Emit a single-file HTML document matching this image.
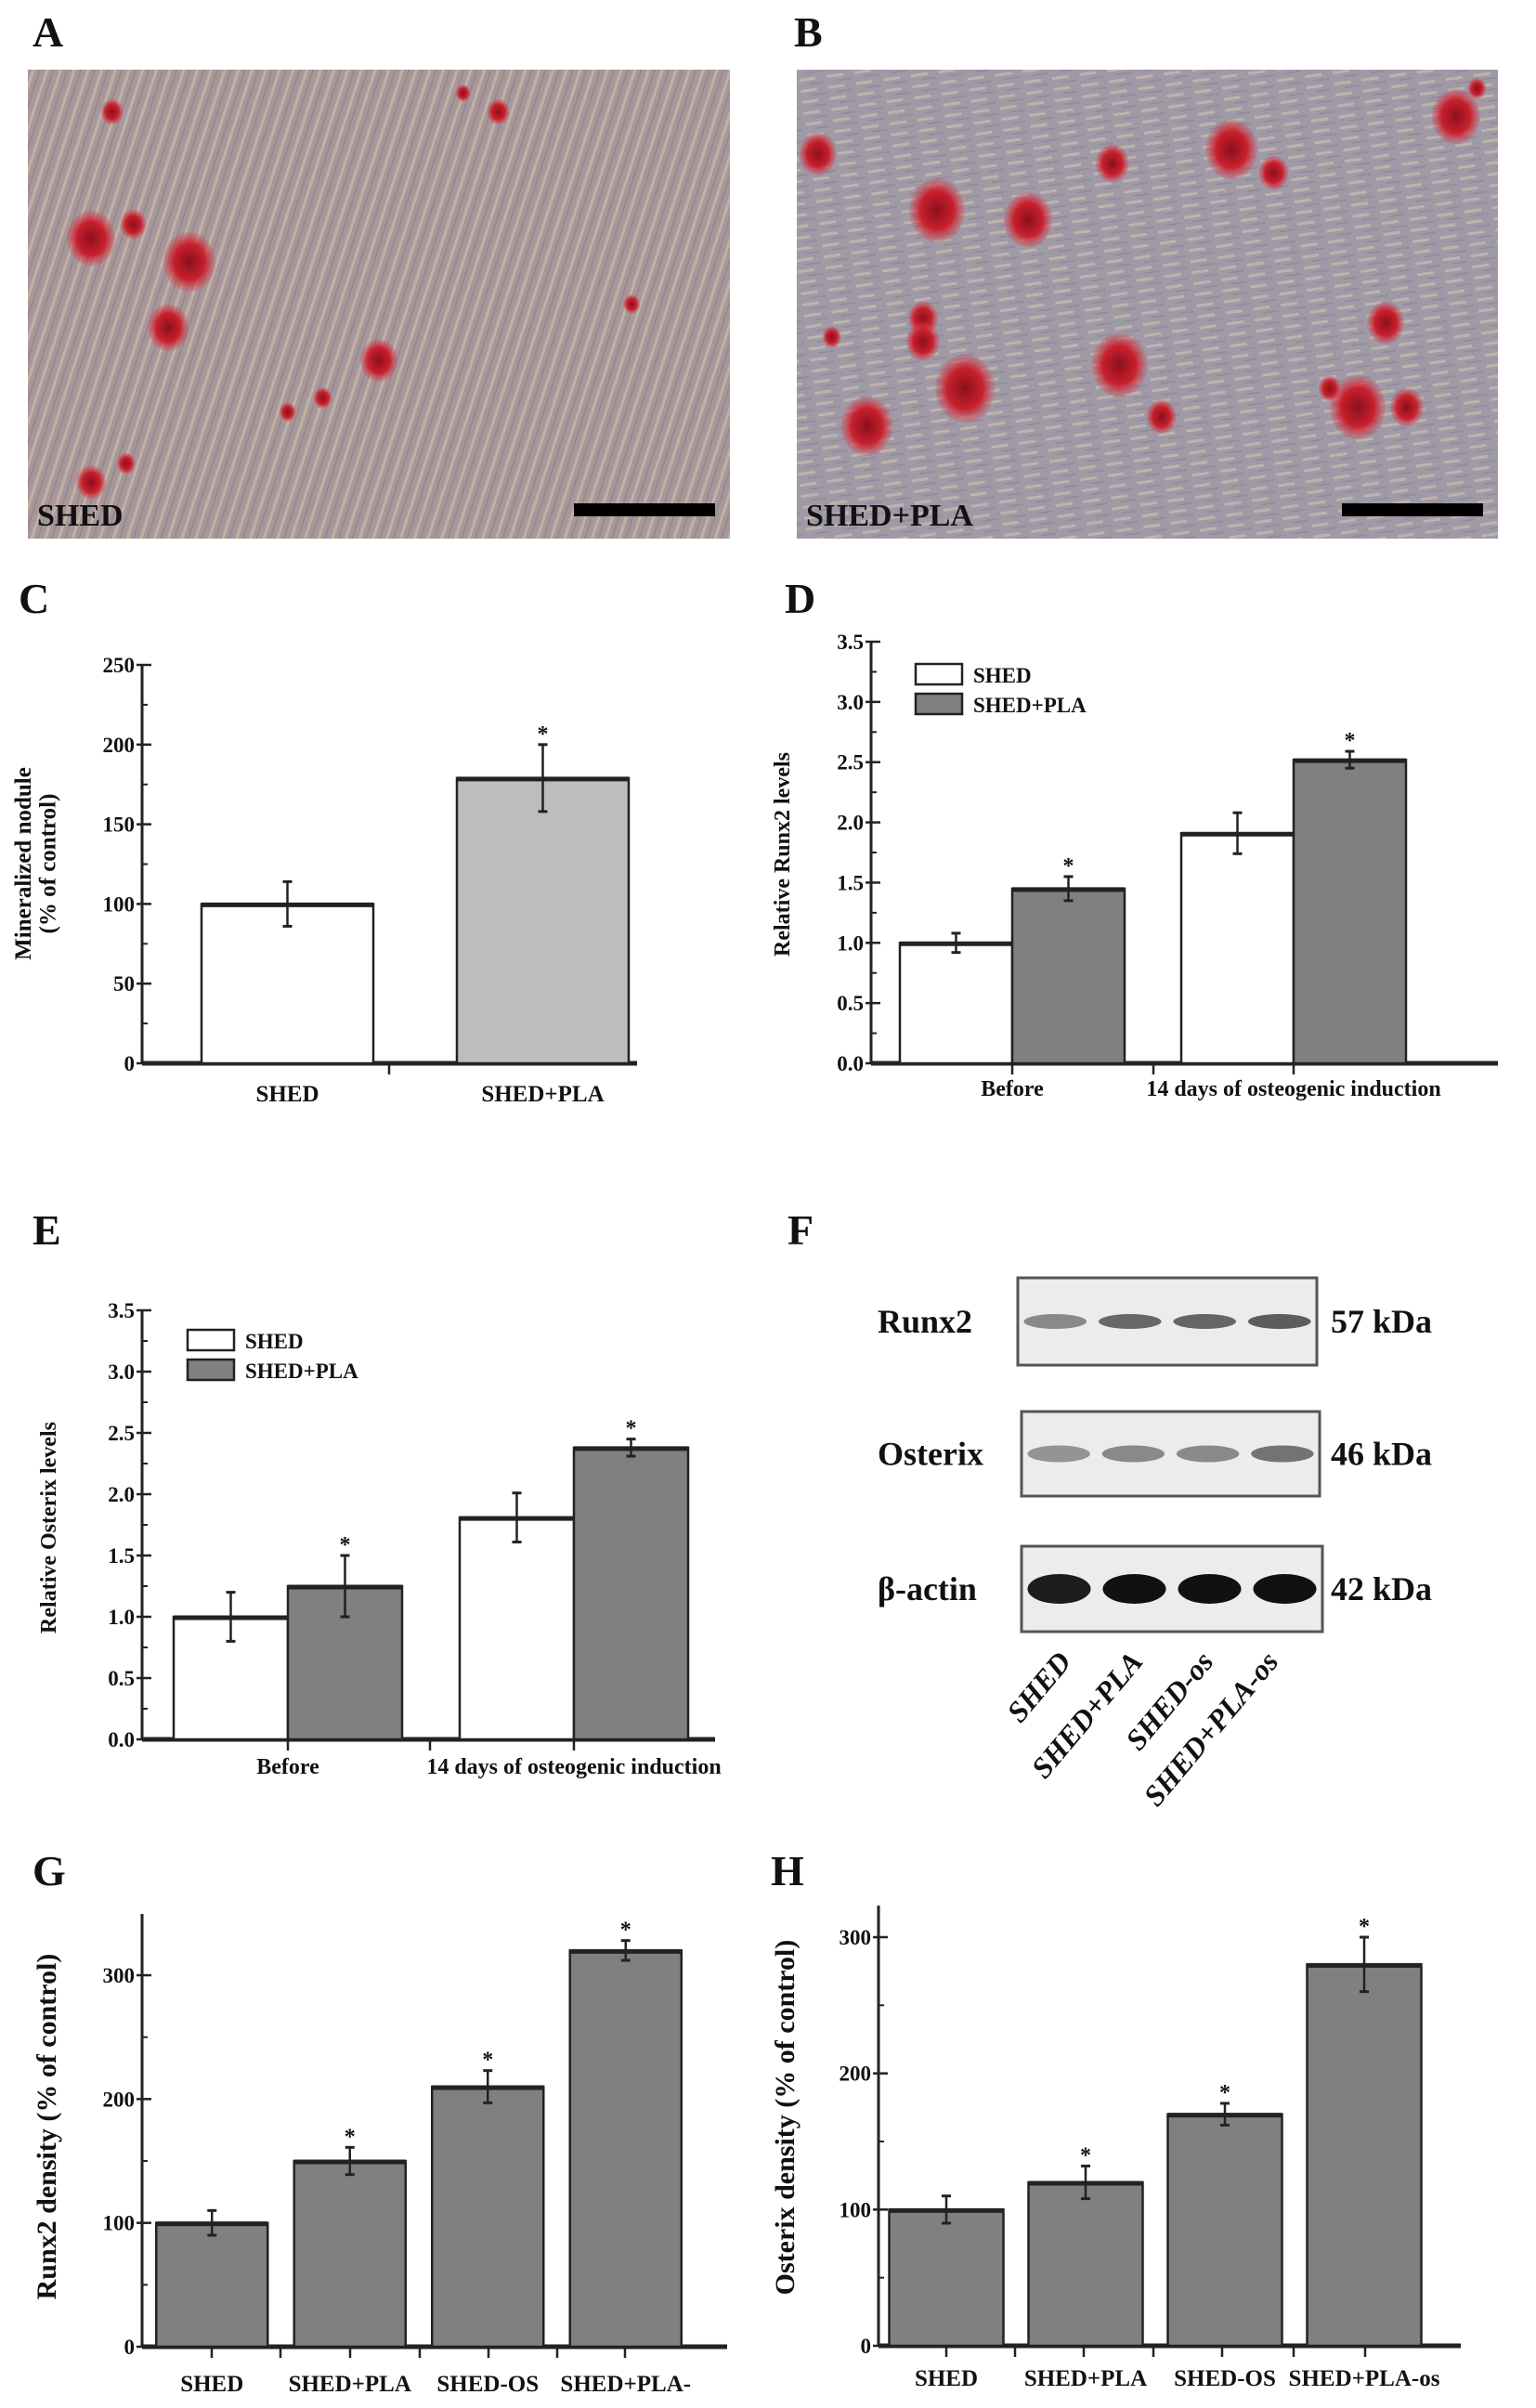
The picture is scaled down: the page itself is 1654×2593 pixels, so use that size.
<!DOCTYPE html>
<html><head><meta charset="utf-8"><style>
html,body{margin:0;padding:0;background:#fff}
#fig{position:absolute;left:0;top:0}
text{font-family:"Liberation Serif",serif;font-weight:bold;fill:#111}
</style></head><body>
<svg id="fig" width="1654" height="2593" viewBox="0 0 1654 2593" xmlns="http://www.w3.org/2000/svg">
<defs>
<pattern id="stripesA" width="14" height="40" patternUnits="userSpaceOnUse" patternTransform="rotate(18)">
<rect width="14" height="40" fill="#a8979a"/><rect x="0" width="3" height="40" fill="#c9bca8" opacity="0.7"/><rect x="7" width="2" height="40" fill="#8f8088" opacity="0.6"/>
</pattern>
<pattern id="stripesB" width="30" height="12" patternUnits="userSpaceOnUse" patternTransform="rotate(-8)">
<rect width="30" height="12" fill="#a09aa6"/><rect y="0" width="18" height="3" fill="#c8c0b0" opacity="0.7"/><rect y="6" x="10" width="16" height="2" fill="#8a829a" opacity="0.6"/>
</pattern>
<radialGradient id="blob"><stop offset="0" stop-color="#8c0f1c"/><stop offset="0.6" stop-color="#c8202c"/><stop offset="1" stop-color="#d84050" stop-opacity="0.2"/></radialGradient>
</defs>
<g id="root"></g>
</svg>
<script>
// ===== Data arrays =====
var cCats = ["SHED", "SHED+PLA"];
var cVals = [100, 179];
var cErrs = [14, 21];
var cStar = [false, true];
var cTicks = [0, 50, 100, 150, 200, 250];

var dGroups = ["Before", "14 days of osteogenic induction"];
var dSeries = ["SHED", "SHED+PLA"];
var dShed = [1.0, 1.91];
var dShedErr = [0.08, 0.17];
var dPla = [1.45, 2.52];
var dPlaErr = [0.1, 0.07];
var dTicks = [0.0, 0.5, 1.0, 1.5, 2.0, 2.5, 3.0, 3.5];

var eGroups = ["Before", "14 days of osteogenic induction"];
var eShed = [1.0, 1.81];
var eShedErr = [0.2, 0.2];
var ePla = [1.25, 2.38];
var ePlaErr = [0.25, 0.07];
var eTicks = [0.0, 0.5, 1.0, 1.5, 2.0, 2.5, 3.0, 3.5];

var gCats = ["SHED", "SHED+PLA", "SHED-OS", "SHED+PLA-"];
var gVals = [100, 150, 210, 320];
var gErrs = [10, 11, 13, 8];
var gStar = [false, true, true, true];
var gTicks = [0, 100, 200, 300];

var hCats = ["SHED", "SHED+PLA", "SHED-OS", "SHED+PLA-os"];
var hVals = [100, 120, 170, 280];
var hErrs = [10, 12, 8, 20];
var hStar = [false, true, true, true];
var hTicks = [0, 100, 200, 300];

var blotLanes = ["SHED", "SHED+PLA", "SHED-os", "SHED+PLA-os"];
var runx2Int = [0.45, 0.6, 0.62, 0.65];
var osterixInt = [0.4, 0.45, 0.45, 0.55];
var actinInt = [0.95, 1.0, 1.0, 1.0];

// ===== helpers =====
var NS = "http://www.w3.org/2000/svg";
var root = document.getElementById('root');
function mk(tag, attrs, parent, txt){
  var e = document.createElementNS(NS, tag);
  for (var k in attrs) e.setAttribute(k, attrs[k]);
  if (txt !== undefined) e.textContent = txt;
  (parent || root).appendChild(e);
  return e;
}
function lin(d0, d1, r0, r1){ return function(v){ return r0 + (v - d0) * (r1 - r0) / (d1 - d0); }; }

function panelLabel(t, x, y){
  var e = mk('text', {x:x, y:y, 'font-size':46});
  e.textContent = t;
  
  
}

function axes(g, x0, x1, yTop, yBot, y, ticks, fmt, minorStep, xTicks){
  var ax = mk('line', {x1:x0, y1:yTop, x2:x0, y2:yBot, stroke:'#222', 'stroke-width':3}, g);
  
  
  var bx = mk('line', {x1:x0, y1:yBot, x2:x1, y2:yBot, stroke:'#222', 'stroke-width':5}, g);
  
  
  var tmax = ticks[ticks.length-1];
  for (var v = 0; v <= tmax + 1e-9; v += minorStep){
    mk('line', {x1:x0, y1:y(v), x2:x0+6, y2:y(v), stroke:'#222', 'stroke-width':2}, g);
  }
  ticks.forEach(function(t){
    mk('line', {x1:x0-6, y1:y(t), x2:x0+10, y2:y(t), stroke:'#222', 'stroke-width':2.5}, g);
    var tl = mk('text', {x:x0-8, y:y(t)+8, 'text-anchor':'end', 'font-size':23, fill:'#333'}, g, fmt(t));
    
    
  });
  (xTicks||[]).forEach(function(xt){
    mk('line', {x1:xt, y1:yBot, x2:xt, y2:yBot+12, stroke:'#222', 'stroke-width':2.5}, g);
  });
}

function bar(g, cx, w, v, err, y, fill, star, name){
  var top = y(v), bot = y(0);
  var r = mk('rect', {x:cx-w/2, y:top, width:w, height:bot-top, fill:fill, stroke:'#222', 'stroke-width':2.5}, g);
  
  
  mk('line', {x1:cx-w/2, y1:top+1, x2:cx+w/2, y2:top+1, stroke:'#222', 'stroke-width':5}, g);
  var ex = cx;
  var eb = mk('line', {x1:ex, y1:y(v+err), x2:ex, y2:y(v-err), stroke:'#222', 'stroke-width':2.5}, g);
  
  
  mk('line', {x1:ex-5, y1:y(v+err), x2:ex+5, y2:y(v+err), stroke:'#222', 'stroke-width':3}, g);
  mk('line', {x1:ex-5, y1:y(v-err), x2:ex+5, y2:y(v-err), stroke:'#222', 'stroke-width':3}, g);
  if (star){
    var s = mk('text', {x:ex, y:y(v+err)-4, 'text-anchor':'middle', 'font-size':24, fill:'#444'}, g, '*');
    
    
  }
}

function ylabel(g, x, y, lines, size){
  var t = mk('text', {transform:'translate('+x+','+y+') rotate(-90)', 'text-anchor':'middle', 'font-size':size}, g);
  lines.forEach(function(l, i){ mk('tspan', {x:0, dy: i===0?0:size*1.05}, t, l); });
  
  
}

function legend(g, x, y, gap){
  dSeries.forEach(function(s, i){
    var r = mk('rect', {x:x, y:y+i*gap-12, width:50, height:22, fill:i===0?'#fff':'#808080', stroke:'#222', 'stroke-width':2.5}, g);
    
    
    var t = mk('text', {x:x+62, y:y+i*gap+8, 'font-size':23, fill:'#222'}, g, s);
    
    
  });
}

// ===== Panels A/B micrographs =====
panelLabel('A', 35, 50);
panelLabel('B', 855, 50);
function micro(x, y, w, h, pat, blobs, label, name){
  var g = mk('g', {});
  
  
  mk('rect', {x:x, y:y, width:w, height:h, fill:'url(#'+pat+')'}, g);
  blobs.forEach(function(b){ mk('ellipse', {cx:x+b[0]*w, cy:y+b[1]*h, rx:b[2], ry:b[2]*1.15, fill:'url(#blob)'}, g); });
  var sb = mk('rect', {x:x+w-168, y:y+h-38, width:152, height:14, fill:'#000'}, g);
  
  
  var t = mk('text', {x:x+10, y:y+h-14, 'font-size':34, fill:'#111'}, g, label);
  
  
}
micro(30, 75, 756, 505, 'stripesA', [[0.09,0.36,26],[0.15,0.33,14],[0.23,0.41,28],[0.2,0.55,22],[0.5,0.62,20],[0.12,0.09,12],[0.09,0.88,16],[0.14,0.84,10],[0.67,0.09,12],[0.42,0.7,10],[0.37,0.73,9],[0.62,0.05,8],[0.86,0.5,9]], 'SHED', 'micrograph-shed');
micro(858, 75, 755, 505, 'stripesB', [[0.03,0.18,20],[0.2,0.3,30],[0.33,0.32,26],[0.45,0.2,18],[0.62,0.17,28],[0.68,0.22,16],[0.94,0.1,26],[0.18,0.53,16],[0.18,0.58,18],[0.46,0.63,30],[0.24,0.68,32],[0.1,0.76,28],[0.84,0.54,20],[0.8,0.72,30],[0.52,0.74,16],[0.87,0.72,18],[0.05,0.57,10],[0.76,0.68,12],[0.97,0.04,10]], 'SHED+PLA', 'micrograph-shed-pla');

// ===== Panel C =====
panelLabel('C', 20, 660);
(function(){
  var g = mk('g', {});  
  var y = lin(0, 250, 1145, 716);
  axes(g, 153, 686, 716, 1145, y, cTicks, function(t){return String(t);}, 25, [419]);
  var x0 = 172, step = 275, w = 185;
  cCats.forEach(function(c, i){
    var cx = x0 + step*i + step/2;
    bar(g, cx, w, cVals[i], cErrs[i], y, i===0?'#fff':'#bdbdbd', cStar[i], 'bar-' + c.toLowerCase().replace(/\+/g,'-'));
    var t = mk('text', {x:cx, y:1186, 'text-anchor':'middle', 'font-size':25}, g, c);
     
  });
  ylabel(g, 33, 930, ['Mineralized nodule', '(% of control)'], 25);
})();

// ===== Panel D =====
panelLabel('D', 845, 660);
(function(){
  var g = mk('g', {});  
  var y = lin(0, 3.5, 1145, 691);
  axes(g, 938, 1613, 691, 1145, y, dTicks, function(t){return t.toFixed(1);}, 0.25, [1090, 1242, 1393]);
  var c0 = 1090, step = 303, w = 121;
  dGroups.forEach(function(gname, i){
    var cx = c0 + step*i;
    bar(g, cx - w/2, w, dShed[i], dShedErr[i], y, '#fff', false, 'bar-shed-' + i);
    bar(g, cx + w/2, w, dPla[i], dPlaErr[i], y, '#808080', true, 'bar-shed-pla-' + i);
    var t = mk('text', {x:cx, y:1180, 'text-anchor':'middle', 'font-size':24}, g, gname);
     
  });
  legend(g, 986, 727, 32);
  ylabel(g, 850, 920, ['Relative Runx2 levels'], 24);
})();

// ===== Panel E =====
panelLabel('E', 35, 1340);
(function(){
  var g = mk('g', {});  
  var y = lin(0, 3.5, 1873, 1411);
  axes(g, 153, 770, 1411, 1873, y, eTicks, function(t){return t.toFixed(1);}, 0.25, [310, 463, 618]);
  var c0 = 310, step = 308, w = 123;
  eGroups.forEach(function(gname, i){
    var cx = c0 + step*i;
    bar(g, cx - w/2, w, eShed[i], eShedErr[i], y, '#fff', false, 'bar-shed-' + i);
    bar(g, cx + w/2, w, ePla[i], ePlaErr[i], y, '#808080', true, 'bar-shed-pla-' + i);
    var t = mk('text', {x:cx, y:1910, 'text-anchor':'middle', 'font-size':24}, g, gname);
     
  });
  legend(g, 202, 1444, 32);
  ylabel(g, 60, 1645, ['Relative Osterix levels'], 24);
})();

// ===== Panel F western blot =====
panelLabel('F', 848, 1340);
(function(){
  var g = mk('g', {});  
  var rows = [['Runx2', runx2Int, 1096, 1376, 1418, 1470, '57 kDa', 8], ['Osterix', osterixInt, 1100, 1520, 1421, 1611, '46 kDa', 9], ['β-actin', actinInt, 1100, 1665, 1424, 1757, '42 kDa', 16]];
  rows.forEach(function(r){
    var box = mk('rect', {x:r[2], y:r[3], width:r[4]-r[2], height:r[5]-r[3], fill:'#ececec', stroke:'#555', 'stroke-width':3}, g);
    
    
    var cy = (r[3]+r[5])/2;
    var lw = (r[4]-r[2]) / 4;
    r[1].forEach(function(v, i){
      var b = mk('ellipse', {cx:r[2] + lw*(i+0.5), cy:cy, rx:lw*0.42, ry:r[7], fill:'#111', opacity:v}, g);
      
      
    });
    var t1 = mk('text', {x:945, y:cy+12, 'font-size':36}, g, r[0]);
     
    var t2 = mk('text', {x:1433, y:cy+12, 'font-size':36}, g, r[6]);
     
  });
  var laneX = [1155, 1232, 1308, 1378];
  blotLanes.forEach(function(l, i){
    var t = mk('text', {transform:'translate('+laneX[i]+',1790) rotate(-50)', 'text-anchor':'end', 'font-size':32, 'font-style':'italic'}, g, l);
     
  });
})();

// ===== Panel G =====
panelLabel('G', 35, 2030);
(function(){
  var g = mk('g', {});  
  var y = lin(0, 300, 2527, 2127);
  axes(g, 153, 783, 2061, 2527, y, gTicks, function(t){return String(t);}, 50, [228, 302, 377, 452, 526, 600, 673]);
  var x0 = 154, step = 148.5, w = 120;
  gCats.forEach(function(c, i){
    var cx = x0 + step*i + step/2;
    bar(g, cx, w, gVals[i], gErrs[i], y, '#808080', gStar[i], 'bar-' + i);
    var t = mk('text', {x:cx, y:2575, 'text-anchor':'middle', 'font-size':25}, g, c);
     
  });
  ylabel(g, 60, 2290, ['Runx2 density (% of control)'], 30);
})();

// ===== Panel H =====
panelLabel('H', 830, 2030);
(function(){
  var g = mk('g', {});  
  var y = lin(0, 300, 2526, 2086);
  axes(g, 946, 1573, 2052, 2526, y, hTicks, function(t){return String(t);}, 50, [1019, 1093, 1167, 1242, 1316, 1393, 1470]);
  var x0 = 944, step = 150, w = 123;
  hCats.forEach(function(c, i){
    var cx = x0 + step*i + step/2;
    bar(g, cx, w, hVals[i], hErrs[i], y, '#808080', hStar[i], 'bar-' + i);
    var t = mk('text', {x:cx, y:2569, 'text-anchor':'middle', 'font-size':25}, g, c);
     
  });
  ylabel(g, 855, 2280, ['Osterix density (% of control)'], 30);
})();
</script>
</body></html>
